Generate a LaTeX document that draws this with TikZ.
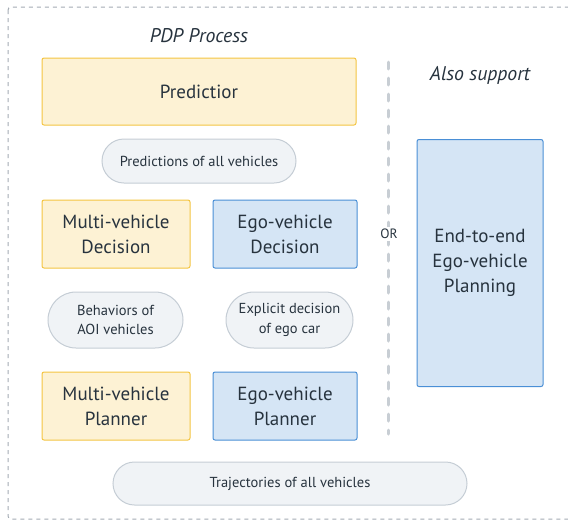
\documentclass[tikz,border=0pt]{standalone}
\usepackage{fontspec}
\setmainfont{PT Sans}
\usetikzlibrary{shapes.misc}
\definecolor{ylwfill}{HTML}{FDF2D4}
\definecolor{ylwline}{HTML}{F4C542}
\definecolor{bluefill}{HTML}{D5E5F5}
\definecolor{blueline}{HTML}{4A8FD6}
\definecolor{pillfill}{HTML}{F0F3F6}
\definecolor{pillline}{HTML}{C5CDD5}
\definecolor{txtcol}{HTML}{27333E}
\definecolor{framecol}{HTML}{A3ABB3}
\definecolor{sepcol}{HTML}{C8CED4}

\begin{document}
\begin{tikzpicture}[x=1pt,y=-1pt,
    every node/.style={text=txtcol,align=center},
    mbox/.style={rectangle,rounded corners=2pt,line width=1pt,
      font=\fontsize{19}{25}\selectfont,inner sep=0pt},
    ylwbox/.style={mbox,draw=ylwline,fill=ylwfill},
    bluebox/.style={mbox,draw=blueline,fill=bluefill},
    pill/.style={rounded rectangle,draw=pillline,fill=pillfill,line width=1pt,
      font=\fontsize{14.5}{19.5}\selectfont,inner sep=0pt},
    heading/.style={font=\fontsize{19.8}{22}\selectfont\itshape}]
    \useasboundingbox (0,0) rectangle (568,523);
    % outer frame
    \draw[framecol,line width=1pt,dash pattern=on 4pt off 4pt,rounded corners=3pt]
      (8,7) rectangle (580,519);
    % left column: PDP process
    \node[heading] (pdp) at (199,36) {PDP Process};
    \node[ylwbox,minimum width=314,minimum height=67] (pred) at (199,91.5) {Predictior};
    \node[pill,minimum width=194,minimum height=44] (predout) at (199,161) {Predictions of all vehicles};
    \node[ylwbox,minimum width=148,minimum height=68] (mdec) at (116,234) {Multi-vehicle\\Decision};
    \node[bluebox,minimum width=144,minimum height=68] (edec) at (285,234) {Ego-vehicle\\Decision};
    \node[pill,minimum width=135,minimum height=56] (mdecout) at (115.5,320) {Behaviors of\\AOI vehicles};
    \node[pill,minimum width=127,minimum height=56] (edecout) at (289.5,320) {Explicit decision\\of ego car};
    \node[ylwbox,minimum width=148,minimum height=68] (mplan) at (116,406) {Multi-vehicle\\Planner};
    \node[bluebox,minimum width=144,minimum height=68] (eplan) at (285,406) {Ego-vehicle\\Planner};
    \node[pill,minimum width=354,minimum height=43] (traj) at (290,483.5) {Trajectories of all vehicles};
    % separator
    \coordinate (septop) at (388,62);
    \coordinate (sepbot) at (388,434);
    \draw[sepcol,line width=3pt,line cap=round,dash pattern=on 7pt off 9pt] (septop) -- (sepbot);
    \node[fill=white,inner sep=2pt,font=\fontsize{13.5}{15}\selectfont] (or) at (389,234) {OR};
    % right column
    \node[heading] (also) at (480,75) {Also support};
    \node[bluebox,minimum width=126,minimum height=247] (e2e) at (480,263)
      {End-to-end\\Ego-vehicle\\Planning};
  \end{tikzpicture}
\end{document}
